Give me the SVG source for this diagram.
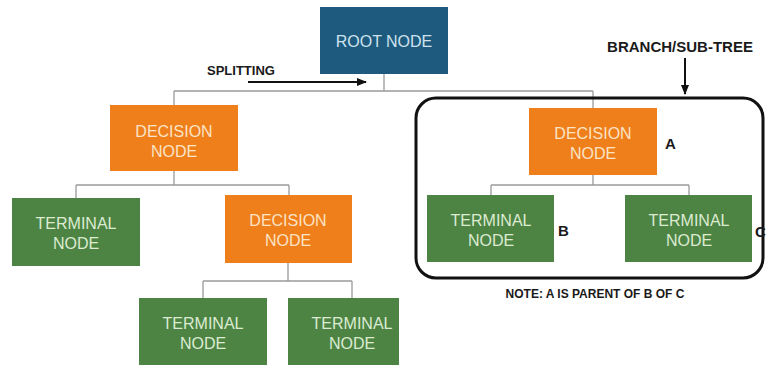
<svg xmlns="http://www.w3.org/2000/svg" width="767" height="369" viewBox="0 0 767 369">
<defs>
<marker id="ah" viewBox="0 0 10 10" refX="9" refY="5" markerWidth="5" markerHeight="5" orient="auto" markerUnits="strokeWidth"><path d="M0,1 L10,5 L0,9 z" fill="#111"/></marker>
<style>
.root{fill:#1d5a7d}
.dec{fill:#ef7f1a}
.term{fill:#4d8443}
.t{font-family:"Liberation Sans",Arial,sans-serif;font-size:16px;text-anchor:middle}
.rt{fill:#cfe2ee}
.dt{fill:#fbe3c6}
.tt{fill:#dcebd2}
.lbl{font-family:"Liberation Sans",Arial,sans-serif;font-weight:bold;fill:#1a1a1a}
.con{fill:none;stroke:#9a9a9a;stroke-width:1.3}
</style>
</defs>
<rect width="767" height="369" fill="#fff"/>
<g id="connectors">
<path class="con" d="M384,74 V91 M174,91 H593 M174,91 V105 M593,91 V108"/>
<path class="con" d="M174,171 V185 M76,185 H289 M76,185 V198 M289,185 V195"/>
<path class="con" d="M288,263 V281 M203,281 H352 M203,281 V298 M352,281 V298"/>
<path class="con" d="M593,175 V185 M491,185 H689 M491,185 V195 M689,185 V195"/>
<line x1="248" y1="82" x2="366" y2="82" stroke="#111" stroke-width="2" marker-end="url(#ah)"/>
<line x1="685" y1="58" x2="685" y2="94" stroke="#111" stroke-width="2" marker-end="url(#ah)"/>
</g>
<g id="subtree">
<rect x="416" y="98" width="347" height="180" rx="20" fill="none" stroke="#111" stroke-width="3"/>
</g>
<g id="root">
<rect class="root" x="320" y="7" width="128" height="67"/>
<text class="t rt" x="384" y="47">ROOT NODE</text>
</g>
<g id="decision1">
<rect class="dec" x="110" y="105" width="128" height="66"/>
<text class="t dt" x="174" y="137">DECISION</text>
<text class="t dt" x="174" y="157">NODE</text>
</g>
<g id="terminal1">
<rect class="term" x="12" y="198" width="128" height="68"/>
<text class="t tt" x="76" y="229">TERMINAL</text>
<text class="t tt" x="76" y="249">NODE</text>
</g>
<g id="decision2">
<rect class="dec" x="225" y="195" width="127" height="68"/>
<text class="t dt" x="288" y="226">DECISION</text>
<text class="t dt" x="288" y="246">NODE</text>
</g>
<g id="terminal2">
<rect class="term" x="139" y="298" width="128" height="67"/>
<text class="t tt" x="203" y="329">TERMINAL</text>
<text class="t tt" x="203" y="349">NODE</text>
</g>
<g id="terminal3">
<rect class="term" x="288" y="298" width="111" height="67"/>
<text class="t tt" x="352" y="329">TERMINAL</text>
<text class="t tt" x="352" y="349">NODE</text>
</g>
<g id="decisionA">
<rect class="dec" x="529" y="108" width="128" height="67"/>
<text class="t dt" x="593" y="139">DECISION</text>
<text class="t dt" x="593" y="159">NODE</text>
</g>
<g id="terminalB">
<rect class="term" x="427" y="195" width="127" height="67"/>
<text class="t tt" x="491" y="226">TERMINAL</text>
<text class="t tt" x="491" y="246">NODE</text>
</g>
<g id="terminalC">
<rect class="term" x="625" y="195" width="127" height="67"/>
<text class="t tt" x="689" y="226">TERMINAL</text>
<text class="t tt" x="689" y="246">NODE</text>
</g>
<g id="labels">
<text class="lbl" x="207" y="75" font-size="13">SPLITTING</text>
<text class="lbl" x="680" y="52" font-size="15" text-anchor="middle">BRANCH/SUB-TREE</text>
<text class="lbl" x="665" y="149" font-size="15">A</text>
<text class="lbl" x="558" y="236" font-size="15">B</text>
<text class="lbl" x="755" y="237" font-size="15">C</text>
<text class="lbl" x="595" y="298" font-size="12" text-anchor="middle">NOTE: A IS PARENT OF B OF C</text>
</g>
</svg>
